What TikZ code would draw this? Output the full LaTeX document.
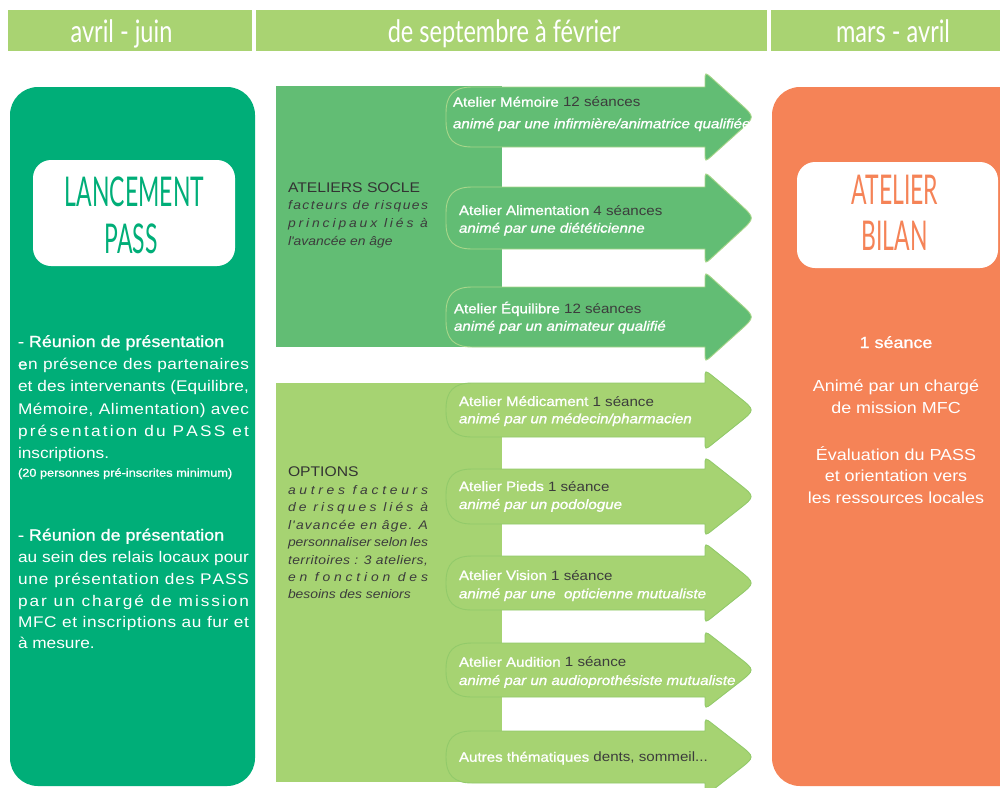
\documentclass[tikz,border=0pt]{standalone}
\usepackage{fontspec}
\usetikzlibrary{calc}
\newfontfamily\lite{Liberation Sans}[FakeStretch=1.12]
\newfontfamily\med{Liberation Sans}[FakeStretch=1.12,FakeBold=1.1]
\newfontfamily\titlef{Lato}[FakeStretch=0.56]
\newfontfamily\headf{Lato}[FakeStretch=0.76]
\definecolor{hdr}{HTML}{A9D372}
\definecolor{lgreen}{HTML}{00AE78}
\definecolor{socle}{HTML}{62BD74}
\definecolor{socleline}{HTML}{A8D68A}
\definecolor{opt}{HTML}{A6D372}
\definecolor{optline}{HTML}{92CA6A}
\definecolor{orng}{HTML}{F58357}
\definecolor{dark}{HTML}{333333}
\definecolor{mid}{HTML}{3C3C3C}
\ExplSyntaxOn
\NewDocumentCommand \spreadline { m m }
  {
    \makebox [ #1 ] [ s ]
      {
        \skip_horizontal:n { 0pt plus -1fil }
        \tl_map_inline:nn { #2 }
          { \str_if_eq:nnTF { ##1 } { | } { \c_space_tl } { \hfil { ##1 } } }
      }
  }
\ExplSyntaxOff
\newcommand\arw[4]{%
  \coordinate (hA) at (705,{#1-#3});
  \coordinate (hT) at (755,{(#1+#2)/2});
  \coordinate (hB) at (705,{#2+#3});
  \coordinate (bT) at (705,#1);
  \coordinate (bB) at (705,#2);
  \filldraw[#4] (446,{#1+26}) .. controls (446,{#1+8}) and (454,#1) .. (472,#1) -- (bT)
    -- ($(hA)!9pt!(bT)$) .. controls (hA) .. ($(hA)!10pt!(hT)$)
    -- ($(hT)!20pt!(hA)$) .. controls (hT) .. ($(hT)!20pt!(hB)$)
    -- ($(hB)!10pt!(hT)$) .. controls (hB) .. ($(hB)!9pt!(bB)$)
    -- (bB) -- (472,#2) .. controls (454,#2) and (446,{#2-8}) .. (446,{#2-26}) -- cycle;}
\begin{document}
\begin{tikzpicture}[x=1pt,y=-1pt,
  txt/.style={anchor=base west, inner sep=0pt, outer sep=0pt, font=\lite},
  ctr/.style={anchor=base, inner sep=0pt, outer sep=0pt, font=\lite},
  hdrtxt/.style={anchor=base, inner sep=0pt, text=white, font=\headf\fontsize{31}{31}\selectfont},
  ttl/.style={anchor=base, inner sep=0pt, font=\titlef\fontsize{41}{41}\selectfont},
  sarrow/.style={fill=socle, draw=socleline, line width=0.9pt},
  oarrow/.style={fill=opt, draw=optline, line width=0.9pt},
  atl/.style={txt, text=mid, font=\lite\fontsize{13.5}{15}\selectfont},
  ati/.style={txt, text=white, font=\med\itshape\fontsize{13.5}{15}\selectfont},
  lp/.style={txt, text=white, font=\lite\fontsize{15.4}{18}\selectfont},
  rp/.style={ctr, text=white, font=\lite\fontsize{16}{18}\selectfont},
  sit/.style={txt, text=mid, font=\lite\itshape\fontsize{12.4}{14}\selectfont},
  shd/.style={txt, text=dark, font=\lite\fontsize{14}{16}\selectfont}]
\useasboundingbox (0,0) rectangle (1000,787);
\clip (0,0) rectangle (1000,787);
\fill[white] (0,0) rectangle (1000,787);
% header bars
\fill[hdr] (8,10) rectangle (252,51);
\fill[hdr] (256,10) rectangle (767,51);
\fill[hdr] (771,10) rectangle (1000,51);
\node[hdrtxt] (h1) at (121.5,42.3) {avril - juin};
\node[hdrtxt] (h2) at (504,42.3) {de septembre à février};
\node[hdrtxt] (h3) at (893,42.3) {mars - avril};
% left panel
\fill[lgreen, rounded corners=28] (10,87) rectangle (255,786);
\fill[white, rounded corners=18] (33,160) rectangle (235,266);
\node[ttl, text=lgreen] (lt1) at (134.5,206.7) {LANCEMENT};
\node[ttl, text=lgreen] (lt2) at (131,253) {PASS};
\node[lp, font=\med\fontsize{16}{18}\selectfont] (la0) at (18,347) {- Réunion de présentation};
\node[lp] (la1) at (18,369.5) {\spreadline{231pt}{{\med e}n|présence|des|partenaires}};
\node[lp] (la2) at (18,391.5) {\spreadline{231pt}{et|des|intervenants|(Equilibre,}};
\node[lp] (la3) at (18,414) {\spreadline{231pt}{Mémoire,|Alimentation)|avec}};
\node[lp] (la4) at (18,436.5) {\spreadline{231pt}{présentation|du|PASS|et}};
\node[lp] (la5) at (18,458) {inscriptions.};
\node[lp, font=\med\fontsize{11.4}{13}\selectfont] (la6) at (18,476.7) {(20 personnes pré-inscrites minimum)};
\node[lp, font=\med\fontsize{16}{18}\selectfont] (lb0) at (18,540.5) {- Réunion de présentation};
\node[lp] (lb1) at (18,562) {\spreadline{231pt}{au|sein|des|relais|locaux|pour}};
\node[lp] (lb2) at (18,584) {\spreadline{231pt}{une|présentation|des|PASS}};
\node[lp] (lb3) at (18,606) {\spreadline{231pt}{par|un|chargé|de|mission}};
\node[lp] (lb4) at (18,627.5) {\spreadline{231pt}{MFC|et|inscriptions|au|fur|et}};
\node[lp] (lb5) at (18,648) {à mesure.};
% right panel
\fill[orng, rounded corners=28] (772,87) rectangle (1040,786);
\fill[white, rounded corners=18] (797,162) rectangle (998,268);
\node[ttl, text=orng] (rt1) at (895,204) {ATELIER};
\node[ttl, text=orng] (rt2) at (894.5,250.7) {BILAN};
\node[rp, font=\med\fontsize{16}{18}\selectfont] (r0) at (896,348) {1 séance};
\node[rp] (r1) at (896,391.7) {Animé par un chargé};
\node[rp] (r2) at (896,413.3) {de mission MFC};
\node[rp] (r3) at (896,460) {Évaluation du PASS};
\node[rp] (r4) at (896,481.7) {et orientation vers};
\node[rp] (r5) at (896,503) {les ressources locales};
% socle block
\fill[socle] (276,86) rectangle (502,347);
\arw{87}{147}{15}{sarrow}
\arw{187}{249}{15}{sarrow}
\arw{287}{347}{15}{sarrow}
\node[shd] (s0) at (288,192.7) {ATELIERS SOCLE};
\node[sit] (s1) at (288,209.5) {\spreadline{140pt}{facteurs|de|risques}};
\node[sit] (s2) at (288,227) {\spreadline{140pt}{principaux|liés|à}};
\node[sit] (s3) at (288,245.5) {l'avancée en âge};
% options block
\fill[opt] (276,383) rectangle (502,782);
\arw{383}{437}{13}{oarrow}
\arw{469}{524}{12}{oarrow}
\arw{556}{610}{13}{oarrow}
\arw{643}{697}{12}{oarrow}
\arw{731}{783}{13}{oarrow}
\node[shd] (o0) at (288,476.7) {OPTIONS};
\node[sit] (o1) at (288,494) {\spreadline{140pt}{autres|facteurs}};
\node[sit] (o2) at (288,511.7) {\spreadline{140pt}{de|risques|liés|à}};
\node[sit] (o3) at (288,529.3) {\spreadline{140pt}{l'avancée|en|âge.|A}};
\node[sit] (o4) at (288,546.7) {\spreadline{140pt}{personnaliser|selon|les}};
\node[sit] (o5) at (288,564) {\spreadline{140pt}{territoires|:|3|ateliers,}};
\node[sit] (o6) at (288,581.2) {\spreadline{140pt}{en|fonction|des}};
\node[sit] (o7) at (288,598.3) {besoins des seniors};
% arrow texts
\node[atl] (a1) at (453,106.7) {{\med\color{white}Atelier Mémoire} 12 séances};
\node[ati] (a1b) at (453,128.3) {animé par une infirmière/animatrice qualifiée};
\node[atl] (a2) at (459,215) {{\med\color{white}Atelier Alimentation} 4 séances};
\node[ati] (a2b) at (459,232.7) {animé par une diététicienne};
\node[atl] (a3) at (454,313.3) {{\med\color{white}Atelier Équilibre} 12 séances};
\node[ati] (a3b) at (454,330.7) {animé par un animateur qualifié};
\node[atl] (a4) at (459,406) {{\med\color{white}Atelier Médicament} 1 séance};
\node[ati] (a4b) at (459,423.3) {animé par un médecin/pharmacien};
\node[atl] (a5) at (459,491) {{\med\color{white}Atelier Pieds} 1 séance};
\node[ati] (a5b) at (459,509) {animé par un podologue};
\node[atl] (a6) at (459,580) {{\med\color{white}Atelier Vision} 1 séance};
\node[ati] (a6b) at (459,598.3) {animé par une\ \ opticienne mutualiste};
\node[atl] (a7) at (459,666.7) {{\med\color{white}Atelier Audition} 1 séance};
\node[ati] (a7b) at (459,685) {animé par un audioprothésiste mutualiste};
\node[atl] (a8) at (459,761.7) {{\med\color{white}Autres thématiques} dents, sommeil...};
\end{tikzpicture}
\end{document}
